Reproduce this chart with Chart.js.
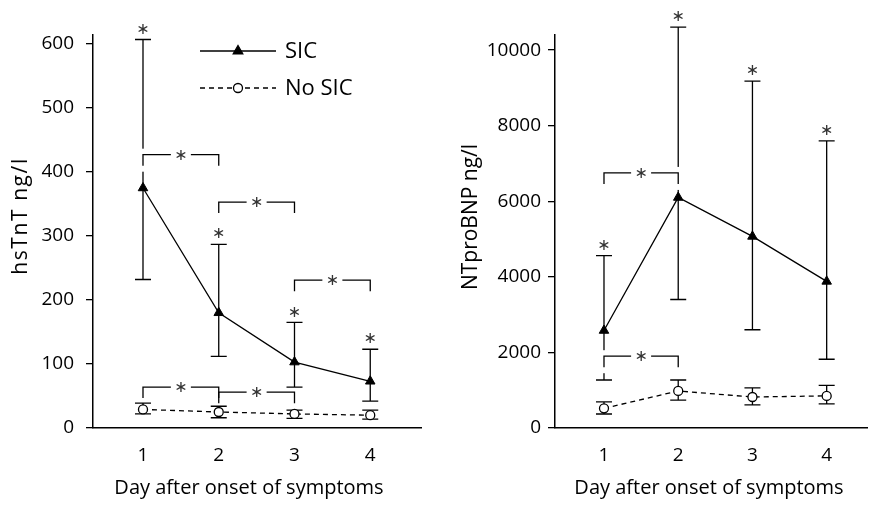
<!DOCTYPE html>
<html>
<head>
<meta charset="utf-8">
<script src="https://cdn.jsdelivr.net/npm/chart.js@4.4.1/dist/chart.umd.min.js"></script>
<style>
  body { margin: 0; background: #fff; }
  .panel { position: absolute; top: 0; width: 437px; height: 505px; }
</style>
</head>
<body>
<div class="panel" style="left:0"><canvas id="tntChart" width="437" height="505"></canvas></div>
<div class="panel" style="left:437px"><canvas id="bnpChart" width="437" height="505"></canvas></div>
<script>
// days after onset
const days = [1, 2, 3, 4];

// hsTnT (ng/l): mean with upper / lower error limits
const tntSic = [375, 180, 103, 73];
const tntSicHi = [607, 287, 165, 123];
const tntSicLo = [232, 112, 64, 42];
const tntNoSic = [29, 25, 22, 20];
const tntNoSicHi = [39, 34, 28, 28];
const tntNoSicLo = [22, 16, 15, 14];
const tntTicks = [0, 100, 200, 300, 400, 500, 600];
// significance brackets: [fromDay, toDay, level]
const tntBrackets = [[1, 2, 427], [2, 3, 353], [3, 4, 231], [1, 2, 64], [2, 3, 56]];

// NTproBNP (ng/l)
const bnpSic = [2580, 6100, 5070, 3880];
const bnpSicHi = [4560, 10610, 9180, 7600];
const bnpSicLo = [1270, 3400, 2600, 1820];
const bnpNoSic = [520, 980, 820, 850];
const bnpNoSicHi = [690, 1270, 1060, 1130];
const bnpNoSicLo = [370, 740, 610, 640];
const bnpTicks = [0, 2000, 4000, 6000, 8000, 10000];
const bnpBrackets = [[1, 2, 6750], [1, 2, 1900]];

// asterisk above the SIC error bar on each day
const sicStars = [true, true, true, true];

const FONT = '"Open Sans", Lato, sans-serif';
const INK = '#000';
const STAR = '\u2217';

const pts = (vals) => days.map((d, i) => ({ x: d, y: vals[i] }));

const extrasPlugin = {
  id: 'extras',
  beforeDatasetsDraw(chart, args, opts) {
    const { ctx } = chart;
    const xs = chart.scales.x, ys = chart.scales.y;
    ctx.save();
    ctx.strokeStyle = INK;
    ctx.lineWidth = 1.3;
    // error bars
    opts.errors.forEach(([hi, lo]) => {
      days.forEach((d, i) => {
        const x = xs.getPixelForValue(d);
        const yh = ys.getPixelForValue(hi[i]);
        const yl = ys.getPixelForValue(lo[i]);
        ctx.beginPath();
        ctx.moveTo(x, yh); ctx.lineTo(x, yl);
        ctx.moveTo(x - 8, yh); ctx.lineTo(x + 8, yh);
        ctx.moveTo(x - 8, yl); ctx.lineTo(x + 8, yl);
        ctx.stroke();
      });
    });
    // brackets (with a small break in any error bar they cross)
    const [hi0, lo0] = opts.errors[0];
    const leg = 11;
    opts.brackets.forEach(([a, b, lvl]) => {
      const y = ys.getPixelForValue(lvl);
      [a, b].forEach((d) => {
        const i = days.indexOf(d);
        if (lvl < hi0[i] && lvl > lo0[i]) {
          ctx.fillStyle = '#fff';
          ctx.fillRect(xs.getPixelForValue(d) - 2.5, y - 6, 5, leg + 12);
        }
      });
      const x1 = xs.getPixelForValue(a), x2 = xs.getPixelForValue(b);
      const xm = (x1 + x2) / 2;
      ctx.beginPath();
      ctx.moveTo(x1, y + leg); ctx.lineTo(x1, y); ctx.lineTo(xm - 10, y);
      ctx.moveTo(xm + 10, y); ctx.lineTo(x2, y); ctx.lineTo(x2, y + leg);
      ctx.stroke();
      drawStar(ctx, xm, y);
    });
    ctx.restore();
  },
  afterDatasetsDraw(chart, args, opts) {
    const { ctx } = chart;
    const xs = chart.scales.x, ys = chart.scales.y;
    const hi = opts.errors[0][0];
    ctx.save();
    days.forEach((d, i) => {
      if (sicStars[i]) drawStar(ctx, xs.getPixelForValue(d), ys.getPixelForValue(hi[i]) - 11);
    });
    // axis titles
    ctx.fillStyle = INK;
    ctx.textAlign = 'center';
    ctx.textBaseline = 'middle';
    ctx.font = '20px ' + FONT;
    ctx.fillText(opts.xTitle, opts.xTitlePos[0], opts.xTitlePos[1]);
    ctx.save();
    ctx.translate(opts.yTitlePos[0], opts.yTitlePos[1]);
    ctx.rotate(-Math.PI / 2);
    ctx.font = opts.yTitleSize + 'px ' + FONT;
    ctx.letterSpacing = opts.yTitleSpacing + 'px';
    ctx.fillText(opts.yTitle, 0, 0);
    ctx.restore();
    // legend
    if (opts.legend) {
      chart.data.datasets.forEach((ds, k) => {
        const y = 51 + k * 37;
        ctx.save();
        ctx.strokeStyle = INK;
        ctx.lineWidth = 1.3;
        ctx.setLineDash(ds.borderDash || []);
        ctx.beginPath();
        ctx.moveTo(200, y); ctx.lineTo(276, y);
        ctx.stroke();
        ctx.setLineDash([]);
        ctx.fillStyle = ds.pointBackgroundColor;
        Chart.helpers.drawPoint(ctx, {
          pointStyle: ds.pointStyle, radius: ds.pointRadius, rotation: 0, borderWidth: 1.3
        }, 238, y);
        ctx.fillStyle = INK;
        ctx.font = '22px ' + FONT;
        ctx.textAlign = 'left';
        ctx.textBaseline = 'middle';
        ctx.fillText(ds.label, 285, y + 1);
        ctx.restore();
      });
    }
    ctx.restore();
  }
};

function drawStar(ctx, x, y) {
  ctx.save();
  ctx.fillStyle = '#333';
  ctx.font = '16px "DejaVu Sans", sans-serif';
  ctx.textAlign = 'center';
  ctx.textBaseline = 'middle';
  ctx.fillText(STAR, x, y + 1);
  ctx.restore();
}

function makeConfig(sic, noSic, ticks, yMax, xMax, yWidth, tickPad, padRight, extras) {
  return {
    type: 'line',
    data: {
      datasets: [
        {
          label: 'SIC',
          data: pts(sic),
          borderColor: INK,
          borderWidth: 1.3,
          pointStyle: 'triangle',
          pointRadius: 5.5,
          pointBackgroundColor: INK,
          pointBorderColor: INK,
          pointBorderWidth: 1,
          tension: 0
        },
        {
          label: 'No SIC',
          data: pts(noSic),
          borderColor: INK,
          borderWidth: 1.3,
          borderDash: [5, 4],
          pointStyle: 'circle',
          pointRadius: 4.5,
          pointBackgroundColor: '#fff',
          pointBorderColor: INK,
          pointBorderWidth: 1.3,
          tension: 0
        }
      ]
    },
    options: {
      responsive: false,
      animation: false,
      events: [],
      layout: { padding: { left: 0, right: padRight, top: 35, bottom: 0 } },
      scales: {
        x: {
          type: 'linear',
          min: 0.34,
          max: xMax,
          afterBuildTicks: (s) => { s.ticks = days.map((v) => ({ value: v })); },
          afterFit: (s) => { s.height = 77; },
          grid: { drawOnChartArea: false, drawTicks: false },
          border: { color: INK, width: 1.5 },
          ticks: { color: INK, font: { family: FONT, size: 19 }, padding: 16, callback: (v) => String(v) }
        },
        y: {
          min: 0,
          max: yMax,
          afterBuildTicks: (s) => { s.ticks = ticks.map((v) => ({ value: v })); },
          afterFit: (s) => { s.width = yWidth; },
          grid: { drawOnChartArea: false, drawTicks: true, tickLength: 7, color: INK, lineWidth: 1.3 },
          border: { color: INK, width: 1.5 },
          ticks: { color: INK, font: { family: FONT, size: 19 }, padding: tickPad, callback: (v) => String(v) }
        }
      },
      plugins: {
        legend: { display: false },
        tooltip: { enabled: false },
        extras: extras
      }
    },
    plugins: [extrasPlugin]
  };
}

new Chart(document.getElementById('tntChart'), makeConfig(
  tntSic, tntNoSic, tntTicks, 614, 4.67, 93, 12, 16,
  {
    errors: [[tntSicHi, tntSicLo], [tntNoSicHi, tntNoSicLo]],
    brackets: tntBrackets,
    legend: true,
    xTitle: 'Day after onset of symptoms', xTitlePos: [249, 488],
    yTitle: 'hsTnT ng/l', yTitlePos: [21, 216], yTitleSize: 21, yTitleSpacing: 1.6
  }
));

new Chart(document.getElementById('bnpChart'), makeConfig(
  bnpSic, bnpNoSic, bnpTicks, 10400, 4.55, 118, 7, 0,
  {
    errors: [[bnpSicHi, bnpSicLo], [bnpNoSicHi, bnpNoSicLo]],
    brackets: bnpBrackets,
    legend: false,
    xTitle: 'Day after onset of symptoms', xTitlePos: [272, 488],
    yTitle: 'NTproBNP ng/l', yTitlePos: [34, 217], yTitleSize: 21, yTitleSpacing: 0
  }
));
</script>
</body>
</html>
